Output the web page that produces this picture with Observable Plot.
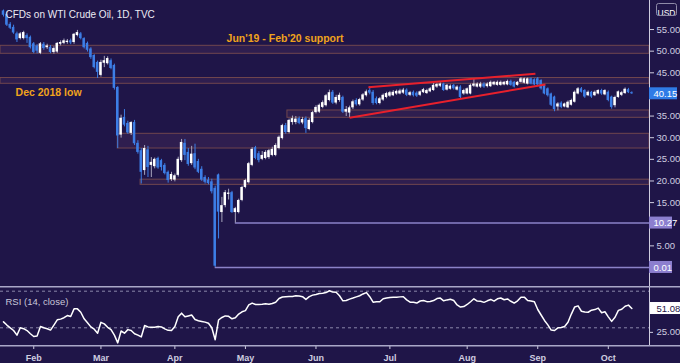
<!DOCTYPE html>
<html><head><meta charset="utf-8">
<script src="https://cdn.jsdelivr.net/npm/d3@7"></script>
<script src="https://cdn.jsdelivr.net/npm/@observablehq/plot@0.6"></script>
<style>
html,body{margin:0;padding:0;background:#1f1548;}
#chart{width:680px;height:363px;overflow:hidden;}
#chart svg{display:block;}
</style></head><body><div id="chart"></div><script>
// ---- data (daily candles, index 0 = first bar) ----
const open = [59.3,58.5,56.2,55.5,54.0,52.9,52.9,53.6,53.2,51.7,51.2,49.5,51.6,50.8,50.9,49.7,49.8,51.6,51.8,52.0,
52.4,52.0,53.6,54.0,52.9,51.8,50.5,49.0,47.4,44.4,47.2,47.1,47.8,46.7,41.6,30.6,34.7,33.3,31.0,33.5,
28.7,27.0,22.4,27.2,23.6,23.3,25.2,24.7,23.6,22.0,20.3,20.2,21.3,24.7,28.7,26.6,24.0,26.3,24.5,22.7,
20.8,20.2,19.8,18.3,21.4,12.7,14.3,16.9,17.3,12.7,12.7,15.5,18.5,19.6,23.6,27.7,26.3,25.0,25.2,25.4,
25.9,25.9,27.5,29.8,32.8,31.2,33.5,33.5,34.4,33.4,34.4,31.9,33.5,35.8,35.9,37.0,37.4,38.6,40.5,38.0,
38.6,39.3,35.9,35.7,36.9,38.6,37.6,38.7,39.7,40.9,40.5,39.0,37.9,38.7,39.3,39.6,39.7,40.1,40.1,40.3,
41.0,39.8,40.5,40.3,39.8,40.4,40.2,40.6,40.9,41.7,41.9,42.4,41.0,41.2,42.1,41.0,41.7,40.1,40.1,40.1,
41.9,41.7,41.7,42.4,41.8,41.8,42.2,42.1,42.1,42.2,42.2,43.0,42.8,42.1,42.8,42.6,42.4,43.6,43.4,43.6,
43.2,42.1,41.3,40.1,39.4,37.1,38.0,37.1,36.9,37.5,38.2,40.1,41.3,40.9,39.7,40.5,39.7,40.1,40.9,39.9,
40.5,39.4,37.4,39.3,39.8,40.2,41.1,40.4];
const high = [59.5,58.9,56.6,56.0,54.4,54.3,54.6,54.0,53.5,52.0,51.5,52.0,52.0,51.6,51.3,51.0,52.0,52.4,52.8,52.7,
52.8,54.1,54.8,54.3,53.1,52.1,50.8,49.2,47.7,47.9,48.8,48.7,48.2,47.0,41.8,35.2,36.5,33.8,33.7,34.0,
29.3,27.5,28.2,28.0,25.4,25.3,25.5,25.0,24.0,22.3,22.0,21.6,25.5,29.6,29.6,27.5,28.0,28.5,25.0,23.3,
21.2,20.8,20.4,18.8,21.6,16.2,17.8,18.1,17.6,13.9,15.8,18.8,20.4,24.3,27.7,28.0,26.8,26.8,27.0,27.3,
27.8,28.6,30.4,33.1,33.3,34.3,35.0,34.9,34.8,34.7,34.8,34.4,36.1,37.4,37.8,38.5,40.0,41.0,40.9,39.8,
40.3,39.6,37.2,37.3,38.7,39.0,39.1,40.2,41.0,41.8,40.9,39.4,39.3,40.1,40.5,40.7,40.9,41.0,41.2,41.4,
41.3,40.7,40.8,40.6,40.8,41.4,41.2,41.6,42.6,42.6,42.7,42.6,42.3,42.2,42.3,42.0,42.0,41.2,41.5,42.4,
43.6,42.7,42.8,42.7,42.7,43.1,43.0,43.1,43.1,43.0,43.3,43.3,43.0,43.0,43.9,43.8,43.8,43.8,43.6,43.9,
43.4,42.3,41.5,40.3,39.6,38.1,38.3,38.0,38.5,38.9,40.8,41.6,41.6,41.1,40.8,40.7,40.8,41.1,41.2,41.1,
40.8,39.6,39.6,40.8,40.7,41.5,41.4,40.6];
const low = [57.9,55.7,55.0,53.9,52.0,52.6,52.6,51.8,50.5,49.4,49.4,49.2,50.2,50.4,49.4,49.3,49.5,51.2,51.5,51.6,
51.5,51.6,53.3,52.6,50.5,49.8,48.1,45.9,43.7,44.0,46.2,46.8,45.7,41.0,27.5,29.9,32.5,30.8,30.5,28.2,
26.2,19.3,21.3,20.8,20.8,22.8,22.7,22.3,21.4,19.5,19.9,19.8,20.9,24.3,24.7,23.4,23.6,22.6,21.7,19.9,
19.3,19.1,17.0,0.01,6.6,10.4,13.8,15.6,12.5,10.27,12.4,15.2,18.2,19.3,23.3,24.9,24.2,24.7,24.9,25.0,
25.6,25.6,27.2,29.5,30.8,30.9,32.9,33.0,33.0,33.0,31.0,31.6,33.2,35.5,35.6,36.7,37.1,38.3,37.7,37.6,
38.2,35.6,34.9,34.6,36.5,37.3,37.3,38.4,39.4,39.9,37.5,37.6,37.6,38.4,39.0,39.3,39.5,39.8,39.9,40.0,
39.5,39.5,39.4,39.3,39.5,40.2,40.0,40.4,40.7,41.4,41.6,40.7,40.8,41.0,41.0,40.8,39.0,39.8,39.9,39.9,
41.6,41.5,41.4,41.4,41.5,41.6,42.0,41.9,41.9,42.0,42.0,41.9,41.5,41.9,42.6,42.4,42.2,42.2,42.0,42.0,
41.0,39.9,39.4,37.2,36.0,36.2,36.7,36.9,36.7,37.3,38.0,39.9,40.3,39.1,39.5,39.1,39.5,39.9,39.8,39.7,
38.3,36.6,36.9,39.1,39.5,40.0,40.2,40.0];
const close = [58.3,56.0,55.3,54.2,52.6,54.0,54.3,52.9,50.8,49.7,50.0,51.7,50.6,51.2,49.7,50.6,51.8,52.0,52.4,52.3,
51.9,53.9,54.3,52.9,50.8,50.2,48.5,46.2,45.1,47.4,47.8,48.3,46.0,41.4,30.4,34.5,32.9,31.1,33.5,28.6,
26.6,22.0,27.5,23.1,24.3,25.0,23.0,23.1,21.7,20.1,21.5,21.2,25.0,28.9,25.9,23.8,26.2,23.0,22.0,20.2,
19.7,19.4,17.5,0.3,12.8,14.3,17.3,17.2,12.7,13.6,15.5,18.5,20.1,24.0,27.3,25.2,24.7,25.9,26.6,27.0,
27.3,28.2,30.1,32.8,31.2,34.0,34.4,34.3,33.3,34.2,32.1,34.0,35.8,37.0,37.5,38.1,39.7,40.4,38.0,39.3,
39.8,35.9,36.5,36.9,38.3,37.6,38.8,39.9,40.6,40.3,37.9,37.9,39.0,39.8,40.2,40.4,40.5,40.7,40.8,41.0,
39.8,40.4,39.7,39.6,40.6,41.1,40.9,41.3,42.1,42.3,42.4,40.9,42.1,41.9,41.3,41.7,39.3,40.9,41.3,42.1,
42.4,42.4,42.4,41.7,42.4,42.8,42.8,42.8,42.8,42.8,43.0,42.1,41.7,42.8,43.6,43.6,43.6,42.4,42.2,42.2,
41.3,40.1,39.7,37.5,36.5,37.8,37.0,37.8,38.2,38.6,40.5,41.3,40.5,39.4,40.5,39.4,40.5,40.9,40.1,40.9,
38.6,37.0,39.3,40.6,40.4,41.2,40.4,40.15];
const rsi = [36.5,33,30,27,22,30,29,27,23.5,20.5,21,31.4,30,29,27.5,33,38.7,39.5,41,43.4,
42.3,50.7,50.7,47,39.8,35.5,31,28.5,24.1,36,34.3,30.5,28,22,13.5,26.5,24.1,28,27,23.5,
22,20,32.5,31,30.7,30.7,31.3,31,28.8,27.2,27,31.5,42,46,42,43,44,39,37.8,37,
36.2,35,30,17,38.5,41.3,43,42.5,39.8,41,45,47.5,48.8,55,57,55.5,55.5,55.8,56.2,55.7,
56.5,58,62,63.7,64,64.2,64.2,65,64.8,64,61,64,65.7,66.5,67.5,67.8,68.5,70.5,69,68.8,
65,59.5,59.8,61.3,62.5,63.8,65,67,68.5,64,58,58.5,58.5,61.8,62.5,63.2,63.5,63.5,63.8,64,
60.5,58,58,57,59.3,59.8,58.6,58.7,59.8,62,62.5,59.5,60.5,61.2,59.8,55,52.7,53.2,55.5,58.5,
61.7,59.2,59,57.8,59.5,61,59.2,61.7,62.6,60.7,61.5,59,57,59.5,63.5,63.5,59.8,59.3,58.4,50,
44,38,33.2,27.5,27,30,30.3,31.4,36,45,52.8,54,48.1,47.2,47,49.3,49.9,51.5,46.5,47.5,
42,37,41.5,49,50.3,53.5,54.8,51.08];

const monthIdx = [9,29,51,72,93,115,138,159,180];
const monthLabels = ["Feb","Mar","Apr","May","Jun","Jul","Aug","Sep","Oct"];
const priceTicks = [55,50,45,35,30,25,20,15,5];
const rsiLevels = [70,30];
const rsiTicks = [25];

// horizontal zones: start bar, lower edge, upper edge
const zoneStart = [null,null,84.5,34,40.8];
const zoneLo = [49.39,42.46,34.6,27.5,19.1];
const zoneHi = [51.24,43.8,36.29,30.9,20.3];
// single price levels
const levelValue = [10.27,0.01];
const levelStart = [69,63];
// rising wedge (start bar, start price, end bar, end price)
const wedgeX1 = [108.6,103.0], wedgeY1 = [41.67,34.6];
const wedgeX2 = [158.3,161.3], wedgeY2 = [44.77,42.3];
// annotations
const noteText = ["Jun'19 - Feb'20 support","Dec 2018 low"];
const noteX = [66.4,3.6], noteY = [53.0,40.5];
const lastPrice = 40.15, lastRsi = 51.08;

// ---- drawing ----
const BG = "#1f1548";
const UP = "#ffffff", DOWN = "#3d7ee6", WICK_UP = "#a9a7be";
const AXIS = "#cfcde0";
const FONT = "Liberation Sans, Arial, sans-serif";
const xDomain = [-0.893, 192.26];
const barsPerPx = 1/3.36;

const candles = close.map((c,i)=>({i, o:open[i], h:high[i], l:low[i], c, up: c>=open[i]}));
const zones = zoneLo.map((lo,k)=>({start: zoneStart[k]==null ? xDomain[0] : zoneStart[k], lo, hi: zoneHi[k]}));
const levels = levelValue.map((v,k)=>({v, start: levelStart[k]}));
const wedges = wedgeX1.map((x,k)=>({x1:x, y1:wedgeY1[k], x2:wedgeX2[k], y2:wedgeY2[k]}));
const notes = noteText.map((t,k)=>({t, x:noteX[k], y:noteY[k]}));
const tags = [
  {v:lastPrice, fill:"#2f7be6", w:28},
  {v:levelValue[0], fill:"#8c7fcf", w:23},
  {v:levelValue[1], fill:"#8c7fcf", w:23}
];
const yMain = 4.327; // px per dollar
const xEnd = xDomain[1];

const main = Plot.plot({
  width: 680, height: 286,
  marginLeft: 0, marginRight: 31, marginTop: 0, marginBottom: 0,
  style: {background: BG, fontFamily: FONT, fontSize: "9.5px", color: AXIS},
  x: {domain: xDomain, axis: null},
  y: {domain: [-4.39, 61.71], axis: "right", ticks: priceTicks, tickFormat: d=>d.toFixed(2), tickSize: 4, tickPadding: 3, label: null},
  marks: [
    Plot.rect(zones, {x1:"start", x2:()=>xEnd, y1:"lo", y2:"hi", fill:"#6a4068", fillOpacity:0.22, stroke:"#70464e", strokeWidth:1}),
    Plot.ruleY(levels, {y:"v", x1:"start", x2:()=>xEnd, stroke:"#8b82c8", strokeWidth:1.5}),
    Plot.ruleX(candles, {x:"i", y1:"l", y2:"h", stroke:d=>d.up?WICK_UP:DOWN, strokeWidth:1}),
    Plot.rect(candles, {x1:d=>d.i-0.37, x2:d=>d.i+0.37,
      y1:d=>Math.min(d.o,d.c), y2:d=>Math.max(Math.max(d.o,d.c), Math.min(d.o,d.c)+0.25),
      fill:d=>d.up?UP:DOWN}),
    Plot.link(wedges, {x1:"x1", y1:"y1", x2:"x2", y2:"y2", stroke:"#e8202c", strokeWidth:2}),
    Plot.text(notes, {x:"x", y:"y", text:"t", textAnchor:"start", fill:"#f0a31c", fontSize:10.5, fontWeight:"bold"}),
    Plot.text(["CFDs on WTI Crude Oil, 1D, TVC"], {frameAnchor:"top-left", dx:5, dy:10.5, text:d=>d, textAnchor:"start", fill:"#ecebf4", fontSize:10}),
    Plot.ruleX([xEnd], {stroke:AXIS, strokeWidth:1}),
    Plot.rect(tags, {x1:()=>xEnd, x2:d=>xEnd + d.w*barsPerPx, y1:d=>d.v-6/yMain, y2:d=>d.v+6/yMain, fill:"fill"}),
    Plot.text(tags, {x:()=>xEnd, y:"v", dx:4, text:d=>d.v.toFixed(2), textAnchor:"start", fill:"#ffffff", fontSize:9.5}),
    Plot.text(["USD"], {frameAnchor:"top-right", dx:17, dy:9, text:d=>d, textAnchor:"middle", fill:"#ffffff", fontSize:8.5})
  ]
});

const rsiData = rsi.map((v,i)=>({i,v}));
const rsiPx = 60/(75.14-9.56);
const lower = Plot.plot({
  width: 680, height: 77,
  marginLeft: 0, marginRight: 31, marginTop: 0, marginBottom: 17,
  style: {background: BG, fontFamily: FONT, fontSize: "9px", color: AXIS, fontWeight: "bold"},
  x: {domain: xDomain, axis: "bottom", ticks: monthIdx, tickFormat: d=>monthLabels[monthIdx.indexOf(d)], tickSize: 3, tickPadding: 5, label: null},
  y: {domain: [9.56, 75.14], axis: null},
  marks: [
    Plot.ruleY(rsiLevels, {stroke:"#8a87aa", strokeDasharray:"3,3", strokeWidth:1}),
    Plot.line(rsiData, {x:"i", y:"v", stroke:"#ffffff", strokeWidth:1.5}),
    Plot.ruleX([xEnd], {stroke:AXIS, strokeWidth:1}),
    Plot.ruleY(rsiTicks, {x1:()=>xEnd, x2:()=>xEnd+4*barsPerPx, stroke:AXIS}),
    Plot.text(rsiTicks, {x:()=>xEnd, y:d=>d, dx:7, text:d=>d.toFixed(2), textAnchor:"start", fill:AXIS, fontSize:9.5, fontWeight:"normal"}),
    Plot.rect([lastRsi], {x1:()=>xEnd+1*barsPerPx, x2:()=>xEnd+31*barsPerPx, y1:d=>d-6/rsiPx, y2:d=>d+6/rsiPx, fill:"#ffffff"}),
    Plot.text([lastRsi], {x:()=>xEnd, y:d=>d, dx:7, text:d=>d.toFixed(2), textAnchor:"start", fill:"#1f1548", fontSize:9.5, fontWeight:"normal"}),
    Plot.text(["RSI (14, close)"], {frameAnchor:"top-left", dx:5, dy:12, text:d=>d, textAnchor:"start", fill:"#c9c7da", fontSize:9.5, fontWeight:"normal"})
  ]
});

const root = document.getElementById("chart");
root.appendChild(main);
root.appendChild(lower);

// frame lines between panels and USD tag border
const ls = d3.select(lower);
ls.append("line").attr("x1",0).attr("x2",680).attr("y1",0.75).attr("y2",0.75).attr("stroke","#aaa7c8").attr("stroke-width",1.5);
ls.append("line").attr("x1",0).attr("x2",680).attr("y1",59.75).attr("y2",59.75).attr("stroke","#aaa7c8").attr("stroke-width",1.5);
d3.select(main).append("rect").attr("x",656.5).attr("y",3.5).attr("width",20).attr("height",12).attr("rx",2)
  .attr("fill","none").attr("stroke","#8e8aa8").attr("stroke-width",1);
</script></body></html>
